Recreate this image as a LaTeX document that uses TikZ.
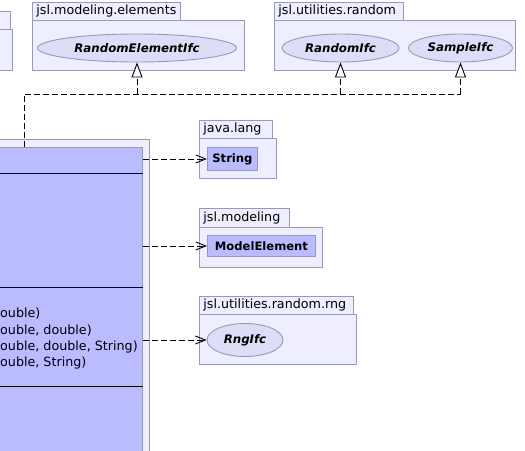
\documentclass[tikz,border=0pt]{standalone}
\usepackage{fontspec}
\setmainfont{DejaVu Sans}
\usetikzlibrary{arrows.meta,shapes.geometric}

\definecolor{pkgfill}{HTML}{EEEEFF}
\definecolor{clsfill}{HTML}{BBBBFF}
\definecolor{ifcfill}{HTML}{DDDDF8}
\definecolor{umledge}{HTML}{9898B8}

\tikzset{
  umltext/.style={font=\fontsize{12.7}{15}\selectfont},
  pkgbody/.style={draw=umledge, fill=pkgfill, line width=0.9pt, anchor=north west, inner sep=0pt},
  pkgtab/.style={draw=umledge, fill=pkgfill, line width=0.9pt, anchor=north west,
    inner xsep=4pt, inner ysep=0pt, align=left},
  classbox/.style={draw=umledge, fill=clsfill, line width=0.9pt, anchor=north west,
    inner sep=0pt, font=\fontsize{11.6}{14}\selectfont\bfseries},
  ifc/.style={ellipse, draw=umledge, fill=ifcfill, line width=0.9pt, inner sep=0pt,
    font=\fontsize{11.8}{14}\selectfont\bfseries\itshape},
  divider/.style={draw=black, line width=0.9pt},
  member/.style={anchor=base west, inner sep=0pt},
  dashline/.style={draw=black, line width=0.9pt, dash pattern=on 6pt off 3pt},
  realize/.style={dashline, -{Triangle[length=15pt,width=11pt,fill=white,line width=0.9pt]}},
  depend/.style={dashline, -{Straight Barb[length=10pt,width=8pt,line width=0.9pt]}},
}

\begin{document}
\begin{tikzpicture}[x=1pt, y=-1pt, umltext]
\useasboundingbox (0,0) rectangle (525,450);
\clip (0,0) rectangle (525,450);
\fill[white] (0,0) rectangle (525,450);

% package partly outside the left edge
\node[pkgtab, minimum width=20pt, minimum height=18pt] (lefttab) at (-10,11) {};
\node[pkgbody, minimum width=22pt, minimum height=41pt] (leftpkg) at (-10,29) {};

% jsl.modeling.elements
\node[pkgtab, minimum width=148pt, minimum height=18pt, text width=140pt] (elemtab) at (32,2) {jsl.modeling.elements};
\node[pkgbody, minimum width=212pt, minimum height=50pt] (elempkg) at (32,20) {};
\node[ifc, minimum width=199pt, minimum height=28pt] (rei) at (137,48) {RandomElementIfc};

% jsl.utilities.random
\node[pkgtab, minimum width=129pt, minimum height=18pt, text width=121pt] (randtab) at (274,2) {jsl.utilities.random};
\node[pkgbody, minimum width=241pt, minimum height=50pt] (randpkg) at (274,20) {};
\node[ifc, minimum width=117pt, minimum height=28pt] (rnd) at (340.5,48) {RandomIfc};
\node[ifc, minimum width=104pt, minimum height=28pt] (smp) at (460.5,48) {SampleIfc};

% java.lang
\node[pkgtab, minimum width=73pt, minimum height=18pt, text width=65pt] (langtab) at (199,120) {java.lang};
\node[pkgbody, minimum width=77pt, minimum height=40pt] (langpkg) at (199,138) {};
\node[classbox, minimum width=50pt, minimum height=23pt] (str) at (207,147) {String};

% jsl.modeling
\node[pkgtab, minimum width=90pt, minimum height=19pt, text width=82pt] (modtab) at (199,208) {jsl.modeling};
\node[pkgbody, minimum width=123pt, minimum height=40pt] (modpkg) at (199,227) {};
\node[classbox, minimum width=108pt, minimum height=21pt] (me) at (207,235) {ModelElement};

% jsl.utilities.random.rng
\node[pkgtab, minimum width=154pt, minimum height=18pt, text width=146pt] (rngtab) at (199,296) {jsl.utilities.random.rng};
\node[pkgbody, minimum width=157pt, minimum height=50pt] (rngpkg) at (199,314) {};
\node[ifc, minimum width=76pt, minimum height=33pt] (rng) at (245,340) {RngIfc};

% enclosing package and the class itself
\node[pkgbody, minimum width=159pt, minimum height=320pt] (mainpkg) at (-10,139) {};
\node[classbox, minimum width=152pt, minimum height=313pt] (cls) at (-10,147) {};
\draw[divider] ([yshift=-26pt]cls.north west) -- ([yshift=-26pt]cls.north east);
\draw[divider] ([yshift=-140pt]cls.north west) -- ([yshift=-140pt]cls.north east);
\draw[divider] ([yshift=-239pt]cls.north west) -- ([yshift=-239pt]cls.north east);

% constructor signatures
\node[member] (c1) at (0,317) {ouble)};
\node[member] (c2) at (0,334) {ouble, double)};
\node[member] (c3) at (0,350) {ouble, double, String)};
\node[member] (c4) at (0,366) {ouble, String)};

% realized interfaces
\coordinate (bus) at (24,94);
\draw[dashline] (cls.north -| bus) -- (bus) -- (bus -| smp.south);
\draw[realize] (bus -| rei.south) -- (rei.south);
\draw[realize] (bus -| rnd.south) -- (rnd.south);
\draw[realize] (bus -| smp.south) -- (smp.south);

% dependencies
\draw[depend] (cls.east |- str.west) -- (str.west);
\draw[depend] (cls.east |- me.west) -- (me.west);
\draw[depend] (cls.east |- rng.west) -- (rng.west);
\end{tikzpicture}
\end{document}
